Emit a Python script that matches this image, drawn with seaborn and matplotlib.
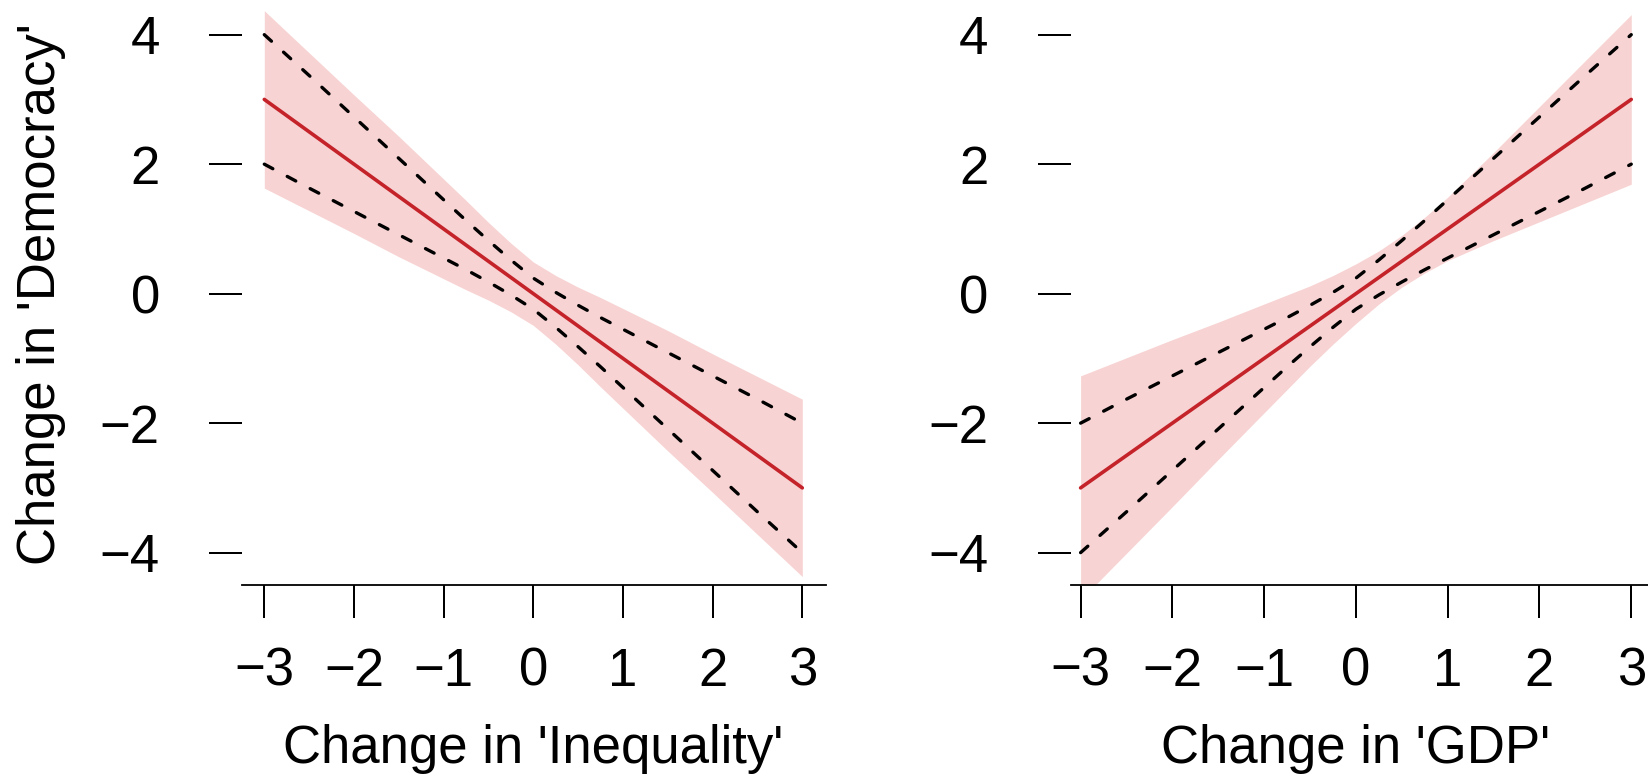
import matplotlib
matplotlib.use("Agg")
import matplotlib.pyplot as plt
import seaborn as sns

# ---------------- data ----------------
x_vals = [-3, -2.5, -2, -1.5, -1, -0.75, -0.5, -0.25, 0, 0.25, 0.5, 0.75, 1, 1.5, 2, 2.5, 3]

# Left panel: Change in 'Inequality'
red_L = [3, 2.5, 2, 1.5, 1, 0.75, 0.5, 0.25, 0, -0.25, -0.5, -0.75, -1, -1.5, -2, -2.5, -3]
bandU_L = [4.37, 3.72, 3.07, 2.43, 1.77, 1.44, 1.10, 0.78, 0.49, 0.28, 0.10, -0.06, -0.23, -0.57, -0.93, -1.28, -1.63]
bandL_L = [1.63, 1.28, 0.93, 0.57, 0.23, 0.06, -0.10, -0.28, -0.49, -0.78, -1.10, -1.44, -1.77, -2.43, -3.07, -3.72, -4.37]
dashU_L = [4.0, 3.37, 2.73, 2.09, 1.45, 1.13, 0.82, 0.52, 0.24, 0.02, -0.18, -0.37, -0.55, -0.91, -1.27, -1.63, -2.0]
dashL_L = [2.0, 1.63, 1.27, 0.91, 0.55, 0.37, 0.18, -0.02, -0.24, -0.52, -0.82, -1.13, -1.45, -2.09, -2.73, -3.37, -4.0]

# Right panel: Change in 'GDP'
red_R = [-3, -2.5, -2, -1.5, -1, -0.75, -0.5, -0.25, 0, 0.25, 0.5, 0.75, 1, 1.5, 2, 2.5, 3]
bandU_R = [-1.27, -0.99, -0.71, -0.44, -0.16, -0.02, 0.12, 0.28, 0.46, 0.66, 0.90, 1.18, 1.49, 2.18, 2.89, 3.60, 4.31]
bandL_R = [-4.73, -4.01, -3.29, -2.56, -1.84, -1.48, -1.12, -0.78, -0.46, -0.16, 0.10, 0.32, 0.51, 0.82, 1.11, 1.40, 1.69]
dashU_R = [-2.0, -1.63, -1.27, -0.91, -0.55, -0.37, -0.18, 0.02, 0.24, 0.52, 0.82, 1.13, 1.45, 2.09, 2.73, 3.37, 4.0]
dashL_R = [-4.0, -3.37, -2.73, -2.09, -1.45, -1.13, -0.82, -0.52, -0.24, -0.02, 0.18, 0.37, 0.55, 0.91, 1.27, 1.63, 2.0]

x_ticks = [-3, -2, -1, 0, 1, 2, 3]
x_ticklabels = ["\u22123", "\u22122", "\u22121", "0", "1", "2", "3"]
y_ticks = [-4, -2, 0, 2, 4]
y_ticklabels = ["\u22124", "\u22122", "0", "2", "4"]
xlabel_L = "Change in 'Inequality'"
xlabel_R = "Change in 'GDP'"
ylabel = "Change in 'Democracy'"

# ---------------- style ----------------
sns.set_style("white")
plt.rcParams['font.family'] = ['Liberation Sans', 'DejaVu Sans']
plt.rcParams['text.color'] = 'black'
plt.rcParams['axes.labelcolor'] = 'black'

RED = "#C4232A"
FILL = "#F8D3D3"
FS = 38

W, H = 1648, 777
fig = plt.figure(figsize=(W / 100, H / 100), dpi=100)
fig.patch.set_facecolor("white")


def px_axes(l_px, r_px, top_px, bot_px):
    return fig.add_axes([l_px / W, 1 - bot_px / H, (r_px - l_px) / W, (bot_px - top_px) / H])


TOP_PX, BOT_PX = 2.3, 585
AX_H = BOT_PX - TOP_PX
axL = px_axes(241.7, 825.7, TOP_PX, BOT_PX)
axR = px_axes(1070.5, 1654.2, TOP_PX, BOT_PX)

panels = [
    (axL, red_L, bandU_L, bandL_L, dashU_L, dashL_L, (-3.252, 3.261), xlabel_L),
    (axR, red_R, bandU_R, bandL_R, dashU_R, dashL_R, (-3.11, 3.25), xlabel_R),
]

xlabel_top_px = 724.0   # from top of figure
xlabel_y = -(xlabel_top_px - BOT_PX) / AX_H

for ax, red, bu, bl, du, dl, xlim, xlab in panels:
    ax.set_facecolor("white")
    ax.fill_between(x_vals, bl, bu, color=FILL, linewidth=0, zorder=1)
    for dy in (du, dl):
        sns.lineplot(x=x_vals, y=dy, ax=ax, color="black", linewidth=2.4,
                     linestyle=(0, (2.9, 4.9)), dash_capstyle="round", zorder=3)
    sns.lineplot(x=x_vals, y=red, ax=ax, color=RED, linewidth=2.6,
                 solid_capstyle="round", zorder=4)

    ax.set_xlim(*xlim)
    ax.set_ylim(-4.5, 4.5)
    ax.set_xticks(x_ticks)
    ax.set_xticklabels(x_ticklabels)
    ax.set_yticks(y_ticks)
    ax.set_yticklabels(y_ticklabels)
    ax.tick_params(axis="both", direction="out", length=23.5, width=1.44,
                   colors="black", labelsize=FS, left=True, bottom=True)
    ax.tick_params(axis="x", pad=21)
    ax.tick_params(axis="y", pad=35.5)
    for s in ("left", "top", "right"):
        ax.spines[s].set_visible(False)
    ax.spines["bottom"].set_linewidth(1.3)
    ax.spines["bottom"].set_color("black")
    ax.grid(False)

    ax.set_xlabel(xlab, fontsize=FS, color="black")
    frac0 = (0 - xlim[0]) / (xlim[1] - xlim[0])
    ax.xaxis.set_label_coords(frac0, xlabel_y)
    ax.set_ylabel("")

axL.set_ylabel(ylabel, fontsize=FS, color="black")
axL.yaxis.set_label_coords(-(241.7 - 66) / 584.0, 0.5)

fig.savefig("out.png", dpi=100, facecolor="white")
